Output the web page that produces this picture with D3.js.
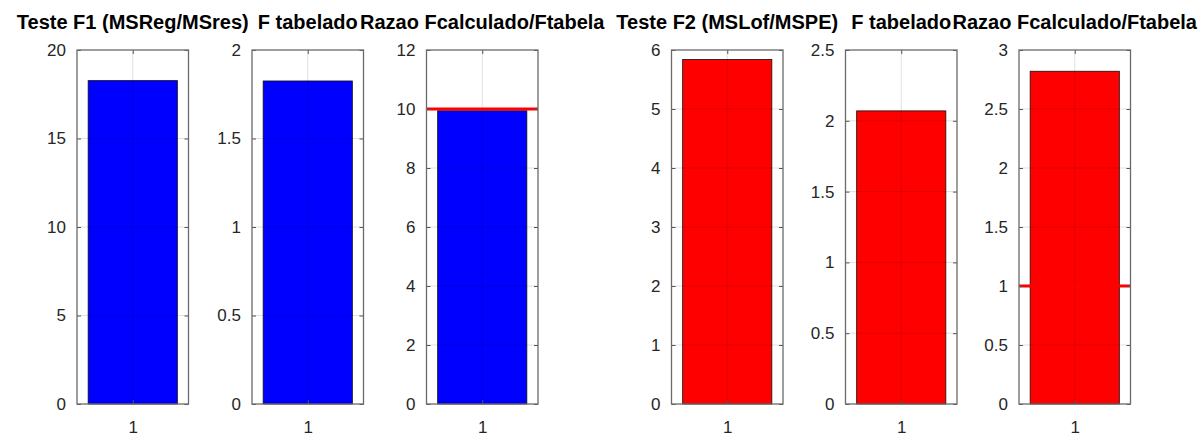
<!DOCTYPE html>
<html>
<head>
<meta charset="utf-8">
<script src="https://cdn.jsdelivr.net/npm/d3@7"></script>
<style>
  body { margin: 0; background: #fff; }
  text { font-family: "Liberation Sans", Arial, sans-serif; }
</style>
</head>
<body>
<div id="d3-container"></div>
<script>
// CONST and GLOBALS
const width = 1199,
  height = 438,
  axTop = 50,
  axBottom = 404,
  panelWidth = 111.5;

// data
const titles = [
  'Teste F1 (MSReg/MSres)',
  'F tabelado',
  'Razao Fcalculado/Ftabela',
  'Teste F2 (MSLof/MSPE)',
  'F tabelado',
  'Razao Fcalculado/Ftabela',
];
const categories = [1];
const values = [18.27, 1.825, 9.94, 5.84, 2.07, 2.82];
const yMax = [20, 2, 12, 6, 2.5, 3];
const yStep = [5, 0.5, 2, 1, 0.5, 0.5];
const refLines = [null, null, 10, null, null, 1];
const barColors = ['#0000ff', '#0000ff', '#0000ff', '#ff0000', '#ff0000', '#ff0000'];

// where each axes sits (left edge)
const panelLeft = [77, 252, 426.5, 671.5, 845.5, 1019];

const svg = d3
  .select('#d3-container')
  .append('svg')
  .attr('width', width)
  .attr('height', height);

titles.forEach((title, i) => {
  const x0 = panelLeft[i];

  const xScale = d3
    .scaleLinear()
    .domain([0.5, 1.5])
    .range([x0, x0 + panelWidth]);

  const yScale = d3
    .scaleLinear()
    .domain([0, yMax[i]])
    .range([axBottom, axTop]);

  const ticks = d3.range(0, yMax[i] + yStep[i] / 2, yStep[i]);

  const g = svg.append('g').attr('class', 'panel');

  // bars
  g.selectAll('.bar')
    .data(categories)
    .join('rect')
    .attr('class', 'bar')
    .attr('x', d => xScale(d - 0.4))
    .attr('width', d => xScale(d + 0.4) - xScale(d - 0.4))
    .attr('y', yScale(values[i]))
    .attr('height', axBottom - yScale(values[i]))
    .attr('fill', barColors[i])
    .attr('stroke', '#111')
    .attr('stroke-width', 0.8);

  // grid (on top, like the figure)
  g.selectAll('.hgrid')
    .data(ticks.slice(1, -1))
    .join('line')
    .attr('class', 'hgrid')
    .attr('x1', xScale(0.5))
    .attr('x2', xScale(1.5))
    .attr('y1', d => yScale(d))
    .attr('y2', d => yScale(d))
    .attr('stroke', '#000')
    .attr('stroke-opacity', 0.12);

  g.selectAll('.vgrid')
    .data(categories)
    .join('line')
    .attr('class', 'vgrid')
    .attr('x1', d => xScale(d))
    .attr('x2', d => xScale(d))
    .attr('y1', axTop)
    .attr('y2', axBottom)
    .attr('stroke', '#000')
    .attr('stroke-opacity', 0.12);

  // reference line
  if (refLines[i] !== null) {
    g.append('line')
      .attr('x1', xScale(0.5))
      .attr('x2', xScale(1.5))
      .attr('y1', yScale(refLines[i]))
      .attr('y2', yScale(refLines[i]))
      .attr('stroke', '#ff0000')
      .attr('stroke-width', 3);
  }

  // AXES
  const fmt = d3.format('~g');

  const yAxis = d3.axisLeft(yScale).tickValues(ticks).tickFormat(fmt).tickSize(-4).tickPadding(11);
  const yAxisR = d3.axisRight(yScale).tickValues(ticks).tickFormat('').tickSize(-4);
  const xAxis = d3.axisBottom(xScale).tickValues(categories).tickFormat(fmt).tickSize(-4).tickPadding(17);
  const xAxisT = d3.axisTop(xScale).tickValues(categories).tickFormat('').tickSize(-4);

  [
    [yAxis, `translate(${x0},0)`],
    [yAxisR, `translate(${x0 + panelWidth},0)`],
    [xAxis, `translate(0,${axBottom})`],
    [xAxisT, `translate(0,${axTop})`],
  ].forEach(([ax, tr]) => {
    const a = g.append('g').attr('transform', tr).call(ax);
    a.select('.domain').remove();
    a.selectAll('.tick line').attr('stroke', '#555').attr('stroke-width', 1);
    a.selectAll('.tick text')
      .attr('fill', '#262626')
      .style('font-size', '17px');
  });

  // box
  g.append('rect')
    .attr('x', x0)
    .attr('y', axTop)
    .attr('width', panelWidth)
    .attr('height', axBottom - axTop)
    .attr('fill', 'none')
    .attr('stroke', '#6a6a6a')
    .attr('stroke-width', 1.3);

  // title
  g.append('text')
    .attr('x', x0 + panelWidth / 2)
    .attr('y', 28.5)
    .attr('text-anchor', 'middle')
    .style('font-size', '20px')
    .style('font-weight', 'bold')
    .attr('fill', '#000')
    .text(title);
});
</script>
</body>
</html>
